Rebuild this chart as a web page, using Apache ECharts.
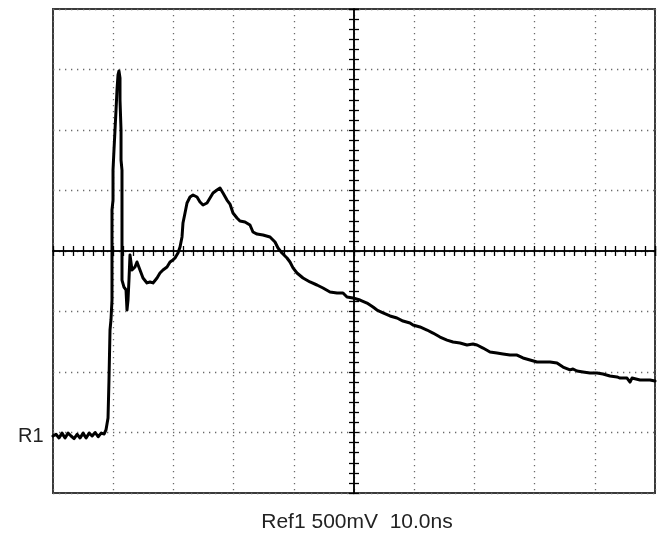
<!DOCTYPE html>
<html>
<head>
<meta charset="utf-8">
<script src="https://cdn.jsdelivr.net/npm/echarts@6/dist/echarts.min.js"></script>
<style>
  html, body { margin: 0; padding: 0; background: #fff; }
  #chart { width: 661px; height: 542px; }
</style>
</head>
<body>
<div id="chart"></div>
<script>
// time in ns across the screen (0..100), 10 ns/div
const timeNs = [
  0, 0.5, 1.0, 1.5, 2.0, 2.5, 3.0, 3.5, 4.0, 4.5, 5.0, 5.5, 6.0, 6.5, 7.0, 7.5, 8.0, 8.5,
  8.8, 8.97, 9.14, 9.3, 9.47, 9.63, 9.8, 9.8, 9.8, 9.97, 9.97, 10.13, 10.3, 10.47, 10.63, 10.8, 10.96,
  11.13, 11.13, 11.3, 11.3, 11.46, 11.46, 11.46, 11.79, 12.13, 12.29, 12.46, 12.62, 12.79,
  13.12, 13.62, 13.95, 14.45, 14.95, 15.61, 16.11, 16.61, 17.28, 17.77, 18.27, 18.94, 19.44, 19.93,
  20.27, 20.76, 21.1, 21.43, 21.59, 21.93, 22.26, 22.76, 23.26, 23.92, 24.42, 24.92, 25.58, 26.08,
  26.58, 27.24, 27.74, 28.24, 28.9, 29.4, 29.9, 30.56, 31.06, 31.89, 32.72, 33.22, 33.89, 34.88,
  36.05, 36.88, 37.38, 38.04, 38.87, 39.37, 39.87, 40.53, 41.53, 42.69, 43.85, 44.85, 46.01, 47.18,
  48.17, 48.84, 49.83, 51.0, 52.16, 53.16, 53.82, 54.82, 55.98, 57.14, 58.14, 59.3, 59.8, 60.96,
  62.13, 63.12, 64.29, 65.45, 66.45, 67.61, 68.77, 69.77, 70.43, 71.43, 72.59, 73.75, 74.75, 75.91,
  77.08, 78.07, 79.24, 80.4, 82.56, 83.72, 84.72, 85.88, 86.38, 87.04, 88.04, 89.2, 90.37, 91.36,
  92.52, 93.69, 94.19, 95.35, 95.85, 96.18, 97.51, 99.17, 100
];
// Ref1 voltage, 500 mV/div
const voltV = [
  -1.529, -1.515, -1.545, -1.505, -1.545, -1.505, -1.529, -1.55, -1.515, -1.545, -1.505, -1.545, -1.505, -1.529, -1.5, -1.535, -1.505, -1.512,
  -1.479, -1.43, -1.38, -1.066, -0.653, -0.57, -0.405, 0.008, 0.339, 0.421, 0.669, 0.835, 1.0, 1.165, 1.331, 1.455, 1.488,
  1.43, 1.248, 1.0, 0.752, 0.669, 0.008, -0.24, -0.298, -0.322, -0.488, -0.405, -0.24, -0.033,
  -0.157, -0.132, -0.091, -0.157, -0.223, -0.264, -0.256, -0.264, -0.223, -0.182, -0.157, -0.132, -0.091, -0.074,
  -0.058, -0.017, 0.033, 0.116, 0.231, 0.314, 0.397, 0.446, 0.463, 0.446, 0.405, 0.38, 0.397, 0.438,
  0.479, 0.504, 0.521, 0.479, 0.421, 0.388, 0.314, 0.273, 0.248, 0.24, 0.215, 0.157, 0.14, 0.132,
  0.116, 0.074, 0.025, -0.017, -0.058, -0.091, -0.14, -0.182, -0.223, -0.256, -0.281, -0.306, -0.339, -0.347,
  -0.347, -0.38, -0.388, -0.405, -0.43, -0.463, -0.488, -0.512, -0.537, -0.554, -0.579, -0.595, -0.612, -0.628,
  -0.653, -0.678, -0.711, -0.736, -0.752, -0.76, -0.777, -0.769, -0.777, -0.802, -0.835, -0.843, -0.851, -0.86,
  -0.86, -0.884, -0.901, -0.917, -0.917, -0.926, -0.959, -0.983, -0.975, -0.992, -1.0, -1.008, -1.008, -1.017,
  -1.033, -1.041, -1.05, -1.05, -1.083, -1.05, -1.066, -1.066, -1.074
];
const refLabel = 'Ref1 500mV  10.0ns';
const markerLabel = 'R1';

const chart = echarts.init(document.getElementById('chart'));

// centre the time axis on the screen so the crosshair can sit on zero
const traceData = timeNs.map((t, i) => [t - 50, voltV[i]]);

const hiddenAxis = {
  axisLabel: { show: false },
  splitLine: { show: false }
};
const crossLine = { show: true, onZero: true, lineStyle: { color: '#000', width: 1.5 } };
const crossTick = { show: true, length: 5, lineStyle: { color: '#000', width: 1.3 } };
const dotted = { show: true, lineStyle: { color: '#6a6a6a', width: 1.3, type: [1.3, 4.7] } };

let option = {
  animation: false,
  backgroundColor: '#fff',
  grid: {
    left: 53, top: 9, width: 602, height: 484,
    show: true, borderColor: '#3a3a3a', borderWidth: 2, backgroundColor: 'transparent'
  },
  xAxis: [
    {
      type: 'value', min: -50, max: 50, interval: 10,
      axisLine: { show: false }, axisTick: { show: false }, axisLabel: { show: false },
      splitLine: dotted
    },
    Object.assign({}, hiddenAxis, {
      type: 'value', min: -50, max: 50, interval: 10 / 6, position: 'bottom',
      axisLine: crossLine, axisTick: crossTick
    }),
    Object.assign({}, hiddenAxis, {
      type: 'value', min: -50, max: 50, interval: 10 / 6, position: 'top',
      axisLine: crossLine, axisTick: crossTick
    })
  ],
  yAxis: [
    {
      type: 'value', min: -2, max: 2, interval: 0.5,
      axisLine: { show: false }, axisTick: { show: false }, axisLabel: { show: false },
      splitLine: dotted
    },
    Object.assign({}, hiddenAxis, {
      type: 'value', min: -2, max: 2, interval: 0.5 / 6, position: 'left',
      axisLine: crossLine, axisTick: crossTick
    }),
    Object.assign({}, hiddenAxis, {
      type: 'value', min: -2, max: 2, interval: 0.5 / 6, position: 'right',
      axisLine: crossLine, axisTick: crossTick
    })
  ],
  graphic: [
    {
      type: 'text', left: 18, top: 426,
      style: { text: markerLabel, fill: '#222', font: '20px "Liberation Sans", Arial, sans-serif' }
    },
    {
      type: 'text', x: 357, y: 522,
      style: {
        text: refLabel, fill: '#222', align: 'center', verticalAlign: 'middle',
        font: '21px "Liberation Sans", Arial, sans-serif'
      }
    }
  ],
  series: [
    {
      type: 'line',
      data: traceData,
      showSymbol: false,
      smooth: false,
      lineStyle: { color: '#000', width: 3, join: 'round', cap: 'round' },
      z: 5
    }
  ]
};
chart.setOption(option);
</script>
</body>
</html>
